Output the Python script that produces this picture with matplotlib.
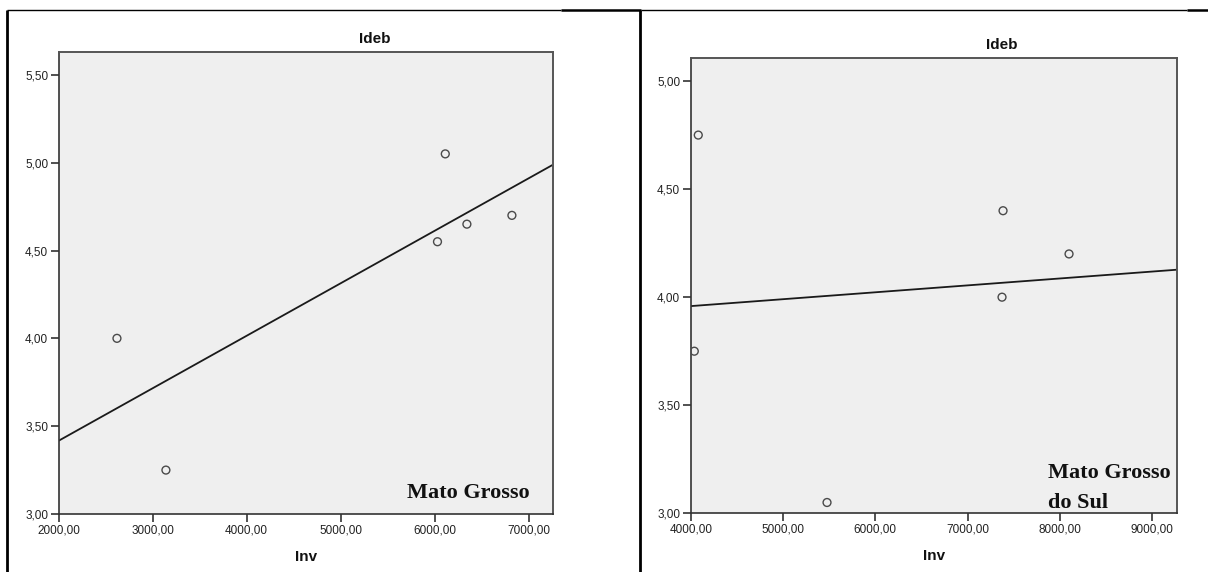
import numpy as np
import matplotlib
matplotlib.use("Agg")
import matplotlib.pyplot as plt
from matplotlib.lines import Line2D
from matplotlib.ticker import FuncFormatter

# Mato Grosso: investment vs. Ideb
mt_inv = [2620, 3141, 6031, 6114, 6344, 6823]
mt_ideb = [4.00, 3.25, 4.55, 5.05, 4.65, 4.70]

# Mato Grosso do Sul: investment vs. Ideb
ms_inv = [4082, 4039, 7384, 7373, 8099, 5477]
ms_ideb = [4.75, 3.75, 4.40, 4.00, 4.20, 3.05]

mt_xticks = [2000, 3000, 4000, 5000, 6000, 7000]
mt_yticks = [3.00, 3.50, 4.00, 4.50, 5.00, 5.50]
ms_xticks = [4000, 5000, 6000, 7000, 8000, 9000]
ms_yticks = [3.00, 3.50, 4.00, 4.50, 5.00]

W, H = 1208, 572
fig = plt.figure(figsize=(W / 100, H / 100), dpi=100)
fig.patch.set_facecolor("white")

SANS = ["Liberation Sans", "DejaVu Sans"]
SERIF = ["Liberation Serif", "DejaVu Serif"]


def box(x0, y0, x1, y1):
    """Axes rectangle from pixel coordinates (origin top-left)."""
    return [x0 / W, 1 - y1 / H, (x1 - x0) / W, (y1 - y0) / H]


def fig_xy(px, py):
    return px / W, 1 - py / H


comma = FuncFormatter(lambda v, p: f"{v:.2f}".replace(".", ","))


def panel(rect, xs, ys, xlim, ylim, xticks, yticks, title_px, inv_px):
    ax = fig.add_axes(rect)
    ax.set_facecolor("#efefef")
    ax.scatter(xs, ys, s=32, facecolors="none", edgecolors="#4a4a4a",
               linewidths=1.0, zorder=3)
    slope, icpt = np.polyfit(xs, ys, 1)
    xl = np.array(xlim)
    ax.plot(xl, slope * xl + icpt, color="#1a1a1a", lw=1.3, zorder=2,
            solid_capstyle="butt")
    ax.set_xlim(*xlim)
    ax.set_ylim(*ylim)
    ax.set_xticks(xticks)
    ax.set_yticks(yticks)
    ax.xaxis.set_major_formatter(comma)
    ax.yaxis.set_major_formatter(comma)
    ax.tick_params(direction="out", length=6, width=1.2, color="#333333",
                   labelsize=8.5, pad=1.5, labelcolor="#222222")
    for lab in ax.get_xticklabels() + ax.get_yticklabels():
        lab.set_family(SANS)
    for side in ("left", "bottom"):
        ax.spines[side].set_color("#333333")
        ax.spines[side].set_linewidth(1.2)
    for side in ("top", "right"):
        ax.spines[side].set_color("#555555")
        ax.spines[side].set_linewidth(1.4)
    fig.text(*fig_xy(*title_px), "Ideb", ha="center", va="center",
             fontsize=11, fontweight="bold", family=SANS, color="#111111")
    fig.text(*fig_xy(*inv_px), "Inv", ha="center", va="center",
             fontsize=11, fontweight="bold", family=SANS, color="#111111")
    return ax


ax1 = panel(box(58.7, 52, 552.5, 514), mt_inv, mt_ideb, (2000, 7255),
            (3.0, 5.63), mt_xticks, mt_yticks, (375, 39), (306, 557))
fig.text(*fig_xy(530, 493), "Mato Grosso", ha="right", va="center",
         fontsize=16, fontweight="bold", family=SERIF, color="#111111")

ax2 = panel(box(690.7, 57.7, 1177.3, 513.3), ms_inv, ms_ideb, (4000, 9272),
            (3.0, 5.108), ms_xticks, ms_yticks, (1002, 45), (934, 556))
fig.text(*fig_xy(1048, 473), "Mato Grosso", ha="left", va="center",
         fontsize=16, fontweight="bold", family=SERIF, color="#111111")
fig.text(*fig_xy(1048, 503), "do Sul", ha="left", va="center",
         fontsize=16, fontweight="bold", family=SERIF, color="#111111")


# table borders around the two panels
def seg(x0, y0, x1, y1, lw):
    fig.add_artist(Line2D([x0 / W, x1 / W], [1 - y0 / H, 1 - y1 / H],
                          transform=fig.transFigure, color="black", lw=lw,
                          solid_capstyle="butt"))


seg(7, 10, 561, 10, 1.0)
seg(561, 10, 641, 10, 1.8)
seg(641, 10, 1187, 10, 1.0)
seg(1187, 10, 1208, 10, 1.8)
seg(7.5, 10, 7.5, 572, 2.0)
seg(640, 10, 640, 572, 2.0)

fig.savefig("out.png", dpi=100, facecolor="white")
